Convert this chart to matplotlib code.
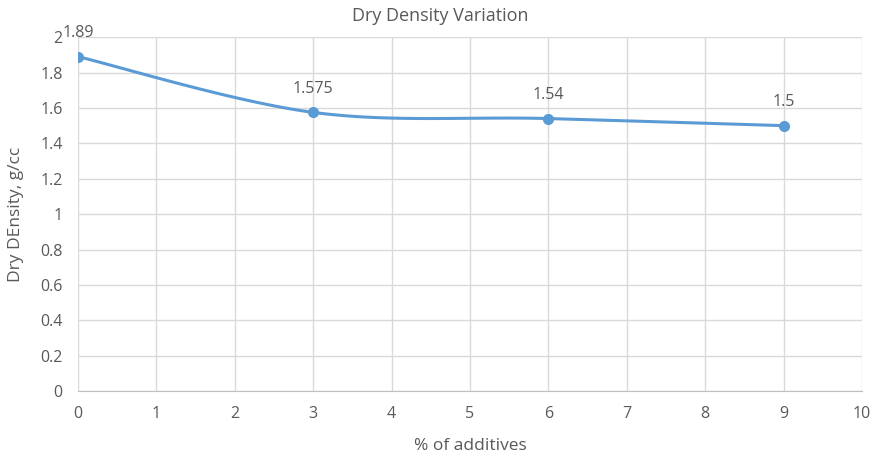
import numpy as np
import matplotlib.pyplot as plt

plt.rcParams['font.family'] = ['Open Sans', 'DejaVu Sans']

additives = [0, 3, 6, 9]
dry_density = [1.89, 1.575, 1.54, 1.5]
labels = ["1.89", "1.575", "1.54", "1.5"]

line_color = "#5B9BD5"
text_color = "#595959"
grid_color = "#D9D9D9"


def smooth(xs, ys, n=40):
    # Excel-like smoothing (Catmull-Rom through the points)
    px = np.array(xs, float)
    py = np.array(ys, float)
    px = np.concatenate([[px[0]], px, [px[-1]]])
    py = np.concatenate([[py[0]], py, [py[-1]]])
    out_x, out_y = [], []
    t = np.linspace(0, 1, n)
    for i in range(1, len(px) - 2):
        p0, p1, p2, p3 = [np.array([px[j], py[j]]) for j in range(i - 1, i + 3)]
        c1 = p1 + (p2 - p0) / 6
        c2 = p2 - (p3 - p1) / 6
        for tt in t:
            b = ((1 - tt) ** 3) * p1 + 3 * ((1 - tt) ** 2) * tt * c1 \
                + 3 * (1 - tt) * tt ** 2 * c2 + tt ** 3 * p2
            out_x.append(b[0])
            out_y.append(b[1])
    return out_x, out_y


fig = plt.figure(figsize=(8.8, 4.59), dpi=100)
ax = fig.add_axes([0.0886, 0.148, 0.891, 0.771])

sx, sy = smooth(additives, dry_density)
ax.plot(sx, sy, color=line_color, linewidth=2.2, zorder=3)
ax.plot(additives, dry_density, "o", color=line_color, markersize=7, zorder=4)

for x, y, s in zip(additives, dry_density, labels):
    ax.annotate(s, (x, y), xytext=(0, 11), textcoords="offset points",
                ha="center", va="bottom", fontsize=11.5, color=text_color)

ax.set_xlim(0, 10)
ax.set_ylim(0, 2)
ax.set_xticks(range(0, 11))
ax.set_yticks([0, 0.2, 0.4, 0.6, 0.8, 1, 1.2, 1.4, 1.6, 1.8, 2])
ax.set_yticklabels(["0", "0.2", "0.4", "0.6", "0.8", "1", "1.2", "1.4", "1.6", "1.8", "2"])
ax.grid(True, color=grid_color, linewidth=1)
ax.set_axisbelow(True)
for side in ["top", "right", "left"]:
    ax.spines[side].set_visible(False)
ax.spines["bottom"].set_color("#BFBFBF")
ax.tick_params(length=0, labelsize=11.5, colors=text_color)
ax.tick_params(axis="x", pad=11)
ax.tick_params(axis="y", pad=11)

fig.suptitle("Dry Density Variation", fontsize=13, color=text_color, x=0.5, y=0.985)
ax.set_xlabel("% of additives", fontsize=12.5, color=text_color, labelpad=11)
ax.set_ylabel("Dry DEnsity, g/cc", fontsize=12.5, color=text_color, labelpad=12)

fig.savefig("out.png", dpi=100)
